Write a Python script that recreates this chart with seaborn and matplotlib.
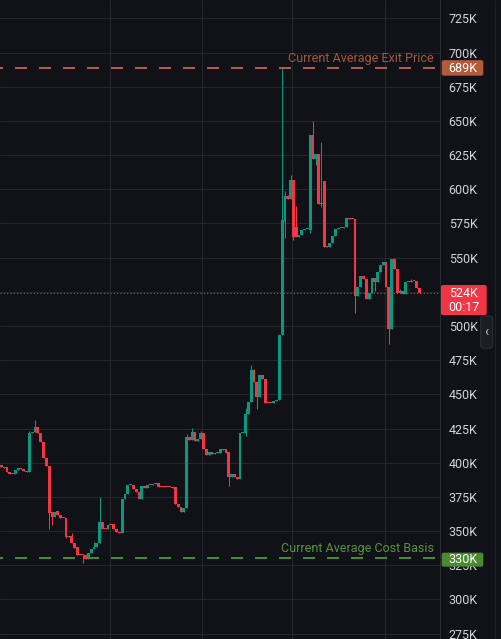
import numpy as np
import pandas as pd
import matplotlib
matplotlib.use("Agg")
import matplotlib.pyplot as plt
from matplotlib.patches import FancyBboxPatch
from matplotlib.transforms import IdentityTransform
from matplotlib.lines import Line2D
import seaborn as sns

# ---------------- data (prices in thousands) ----------------
opens = [398.3, 396.6, 396.6, 393.4, 391.7, 391.7, 394.4, 395.8, 395.3, 394.1,
         393.4, 421.7, 422.2, 425.9, 421.9, 415.3, 403.2, 397.8, 364.1, 360.4,
         364.6, 361.7, 359.7, 359.3, 345.8, 346.3, 341.4, 338.0, 332.4, 332.4,
         332.4, 329.5, 333.7, 336.6, 338.5, 341.4, 356.6, 351.7, 351.7, 354.6,
         354.9, 351.2, 349.2, 348.3, 373.2, 377.1, 383.4, 383.4, 380.7, 378.7,
         373.6, 382.9, 381.2, 383.6, 383.4, 384.1, 384.9, 382.2, 383.1, 382.5,
         382.2, 382.0, 382.0, 369.7, 367.3, 364.1, 367.0, 418.8, 416.6, 422.4,
         416.1, 417.1, 421.7, 409.8, 405.8, 407.8, 406.6, 406.8, 406.8, 409.8,
         409.8, 407.8, 389.7, 391.5, 389.3, 388.0, 421.5, 421.9, 435.4, 444.1,
         467.8, 459.2, 448.2, 464.1, 461.2, 443.9, 443.6, 443.4, 445.0, 446.1,
         493.5, 577.0, 595.1, 592.7, 606.8, 572.2, 565.3, 566.6, 570.2, 570.6,
         570.2, 639.7, 621.9, 625.8, 589.0, 606.4, 558.5, 558.0, 561.0, 566.0,
         570.9, 571.5, 571.6, 572.2, 578.8, 578.6, 578.2, 522.1, 528.7, 536.6,
         534.1, 520.0, 524.3, 535.1, 532.4, 539.5, 544.6, 546.8, 528.3, 498.0,
         549.0, 541.5, 523.9, 525.8, 523.2, 532.2, 532.2, 533.1, 533.1, 527.6]
closes = [396.6, 396.4, 393.4, 391.7, 391.9, 394.4, 395.8, 395.5, 394.1, 393.4,
          421.7, 422.2, 425.9, 421.9, 415.3, 403.2, 397.8, 363.4, 360.4, 364.1,
          361.7, 359.7, 359.3, 345.8, 346.0, 341.4, 337.8, 332.4, 332.2, 332.2,
          329.5, 333.7, 336.6, 338.5, 341.4, 356.6, 351.7, 351.5, 354.4, 354.4,
          351.2, 349.2, 348.3, 373.2, 377.1, 383.4, 383.6, 380.7, 378.7, 373.6,
          382.9, 381.2, 383.4, 383.4, 384.1, 384.9, 382.0, 382.0, 382.5, 382.3,
          382.0, 381.7, 369.5, 367.3, 364.1, 367.0, 418.8, 416.6, 422.4, 416.1,
          417.1, 421.7, 409.8, 405.8, 407.8, 406.1, 406.1, 407.0, 409.8, 409.6,
          407.3, 389.7, 391.5, 389.3, 388.0, 421.5, 421.9, 435.4, 444.1, 467.8,
          459.2, 448.2, 464.1, 461.2, 443.9, 443.6, 443.4, 445.0, 446.1, 493.5,
          577.6, 595.1, 592.7, 606.8, 565.3, 565.3, 566.6, 570.2, 570.9, 570.7,
          639.7, 621.9, 625.8, 589.0, 590.2, 558.0, 558.0, 561.0, 566.0, 570.9,
          571.5, 571.6, 572.2, 578.8, 578.6, 578.4, 522.1, 528.7, 536.6, 534.1,
          520.0, 524.3, 535.1, 532.4, 539.5, 544.6, 546.8, 528.3, 498.0, 549.0,
          541.5, 523.9, 525.8, 523.2, 532.2, 532.4, 533.1, 533.0, 527.6, 523.9]
highs = [398.3, 396.6, 396.6, 393.4, 391.9, 394.4, 395.8, 395.8, 395.3, 394.1,
         423.4, 422.2, 431.2, 425.9, 421.9, 415.3, 403.2, 397.8, 364.1, 364.1,
         364.6, 361.7, 359.7, 359.3, 346.0, 348.3, 341.4, 338.0, 332.4, 332.4,
         332.4, 333.7, 336.6, 341.7, 341.4, 375.1, 356.6, 351.7, 354.4, 354.6,
         354.9, 351.2, 349.2, 373.2, 377.1, 383.4, 383.6, 383.4, 380.7, 378.7,
         382.9, 382.9, 383.4, 383.6, 384.1, 384.9, 384.9, 382.2, 383.1, 382.5,
         382.2, 382.0, 382.0, 369.7, 367.3, 367.0, 420.9, 418.8, 425.1, 422.4,
         417.1, 423.2, 421.7, 409.8, 407.8, 407.8, 407.3, 407.0, 409.8, 409.8,
         409.8, 407.8, 391.5, 391.5, 389.3, 421.5, 421.9, 440.0, 444.1, 471.4,
         468.5, 459.2, 464.1, 464.1, 461.2, 443.9, 443.6, 445.0, 446.1, 493.5,
         689.3, 598.8, 596.2, 610.5, 606.8, 588.0, 566.6, 570.2, 570.9, 570.7,
         639.7, 650.0, 625.8, 625.8, 634.8, 606.4, 558.5, 561.0, 566.0, 570.9,
         571.5, 571.6, 572.2, 578.8, 578.8, 578.6, 578.2, 528.7, 536.6, 536.6,
         534.1, 524.3, 535.1, 535.1, 539.5, 544.6, 546.8, 546.8, 528.3, 549.0,
         549.7, 541.5, 527.0, 525.8, 532.2, 532.4, 534.5, 533.1, 533.1, 527.6]
lows = [396.6, 396.4, 393.4, 391.7, 391.7, 391.7, 394.4, 395.5, 394.1, 393.4,
        393.4, 421.7, 422.2, 421.9, 415.3, 403.2, 397.8, 351.7, 354.4, 360.4,
        361.7, 359.7, 359.3, 344.9, 345.8, 341.4, 337.8, 332.4, 332.2, 326.8,
        329.5, 329.5, 333.7, 336.6, 338.5, 341.4, 351.7, 351.5, 351.7, 354.4,
        351.2, 349.2, 348.3, 348.3, 373.2, 377.1, 383.4, 380.7, 378.7, 373.6,
        373.6, 381.2, 381.2, 383.4, 383.4, 384.1, 382.0, 382.0, 382.5, 382.3,
        382.0, 381.7, 369.5, 367.3, 364.1, 364.1, 367.0, 416.6, 416.6, 416.1,
        416.1, 417.1, 409.8, 405.8, 405.8, 406.1, 406.1, 406.8, 406.8, 409.6,
        407.3, 382.9, 389.7, 389.3, 388.0, 388.0, 421.5, 419.5, 435.4, 444.1,
        459.2, 439.2, 448.2, 461.2, 443.9, 443.6, 443.4, 443.4, 445.0, 446.1,
        493.5, 564.6, 592.7, 592.7, 563.0, 565.3, 565.3, 566.6, 570.2, 570.6,
        568.0, 621.9, 618.0, 589.0, 587.0, 558.0, 558.0, 558.0, 561.0, 566.0,
        570.9, 571.5, 571.6, 572.2, 578.6, 578.4, 509.7, 522.1, 528.7, 534.1,
        520.0, 520.0, 524.3, 525.8, 532.4, 539.5, 544.6, 528.3, 486.8, 498.0,
        541.5, 523.9, 523.9, 523.2, 523.2, 532.2, 532.2, 533.0, 527.6, 523.9]

y_ticks = [275, 300, 325, 350, 375, 400, 425, 450, 475, 500, 525, 550, 575,
           600, 625, 650, 675, 700, 725]
time_grid = [38.7, 71.5, 103.5, 136.7]   # vertical time gridlines (bar index)
exit_price = 689
cost_basis = 330
last_price = 523.9
last_label = "524K"
countdown = "00:17"

# ---------------- style ----------------
BG = "#111217"
GRID = "#25272c"
UP = "#089981"
DOWN = "#f23645"
EXIT_C = "#b85b3c"
EXIT_T = "#a9573b"
COST_C = "#4c8a2e"
COST_T = "#5a923c"
LABEL_C = "#d1d4dc"

sns.set_theme(style="dark", rc={
    "axes.facecolor": BG, "figure.facecolor": BG, "savefig.facecolor": BG,
    "axes.edgecolor": GRID, "grid.color": GRID,
})
plt.rcParams["font.family"] = ["Roboto", "DejaVu Sans"]

df = pd.DataFrame({"open": opens, "high": highs, "low": lows, "close": closes})
df["idx"] = np.arange(len(df))
df["up"] = df["close"] >= df["open"]

W, H = 502, 639
PLOT_W = 440
BAR_PX = 2.807
fig = plt.figure(figsize=(W / 100, H / 100), dpi=100)
ax = fig.add_axes([0, 0, PLOT_W / W, 1])
ax.set_facecolor(BG)
ax.set_xlim(-0.5, -0.5 + PLOT_W / BAR_PX)
ax.set_ylim(271.0, 738.5)
px_per_unit = H / (738.5 - 271.0)

colors = np.where(df["up"], UP, DOWN)
ax.vlines(df["idx"], df["low"], df["high"], colors=colors, linewidth=0.75, zorder=3)
body_lo = np.minimum(df["open"], df["close"])
body_h = np.maximum((df["close"] - df["open"]).abs(), 1.0 / px_per_unit)
ax.bar(df["idx"], body_h, bottom=body_lo, width=1.0, color=colors,
       linewidth=0, zorder=4, antialiased=False)

# grid
ax.set_yticks(y_ticks)
ax.set_yticklabels([f"{v}K" for v in y_ticks])
ax.set_xticks(time_grid)
ax.grid(True, color=GRID, linewidth=0.75, zorder=0)
ax.yaxis.tick_right()
ax.tick_params(axis="y", length=0, pad=6.3, labelsize=9, labelcolor=LABEL_C)
ax.tick_params(axis="x", length=0, labelbottom=False)
for s in ["top", "left", "bottom"]:
    ax.spines[s].set_visible(False)
ax.spines["right"].set_color("#2a2d33")
ax.spines["right"].set_linewidth(0.75)

# reference lines
ax.axhline(exit_price, xmin=0, xmax=436 / PLOT_W, color=EXIT_C, lw=1.44,
           linestyle=(4.5, (6, 6)), zorder=5)
ax.axhline(cost_basis, xmin=0, xmax=436 / PLOT_W, color=COST_C, lw=1.44,
           linestyle=(4.5, (6, 6)), zorder=5)
ax.axhline(last_price, color=DOWN, lw=0.75, linestyle=(0, (1, 2.2)), zorder=5)

ax.annotate("Current Average Exit Price", xy=(434 / PLOT_W, exit_price),
            xycoords=("axes fraction", "data"), xytext=(0, 6.8),
            textcoords="offset points", ha="right", va="center",
            color=EXIT_T, fontsize=9)
ax.annotate("Current Average Cost Basis", xy=(434 / PLOT_W, cost_basis),
            xycoords=("axes fraction", "data"), xytext=(0, 7.4),
            textcoords="offset points", ha="right", va="center",
            color=COST_T, fontsize=9)

ident = IdentityTransform()


def ydisp(v):
    return ax.transData.transform((0, v))[1]


def box(x0, x1, ytop, ybot, color, r=2.0):
    p = FancyBboxPatch((x0, ybot), x1 - x0, ytop - ybot,
                       boxstyle=f"round,pad=0,rounding_size={r}",
                       transform=ident, fc=color, ec="none", zorder=10)
    fig.add_artist(p)


# price boxes
y = ydisp(exit_price)
box(441.7, 483.3, y + 7.5, y - 8.0, "#b5593b")
fig.text(462.5, y - 0.5, f"{exit_price}K", transform=ident, ha="center",
         va="center", color="white", fontsize=9, zorder=11)

y = ydisp(cost_basis)
box(441.7, 483.3, y + 5.7, y - 8.3, "#4b8a2f")
fig.text(462.5, y - 1.2, f"{cost_basis}K", transform=ident, ha="center",
         va="center", color="white", fontsize=9, zorder=11)

y = ydisp(last_price)
box(441.0, 486.7, y + 8.3, y - 21.7, DOWN)
fig.text(463.8, y + 0.3, last_label, transform=ident, ha="center",
         va="center", color="white", fontsize=9, zorder=11)
fig.text(463.8, y - 14.5, countdown, transform=ident, ha="center",
         va="center", color="white", fontsize=9, zorder=11)

# side tab + panel edge
fig.add_artist(Line2D([494.5, 494.5], [0, H], transform=ident, color="#1f2126",
                      lw=0.75, zorder=2))
tab = FancyBboxPatch((480.7, H - 348.3), 12.0, 32.3,
                     boxstyle="round,pad=0,rounding_size=3", transform=ident,
                     fc="#1b1d22", ec="#2c2f36", lw=0.75, zorder=10)
fig.add_artist(tab)
fig.text(486.7, H - 332, "\u2039", transform=ident, ha="center", va="center",
         color="#c3c6cc", fontsize=10, zorder=11)

fig.savefig("out.png", dpi=100, facecolor=BG)
